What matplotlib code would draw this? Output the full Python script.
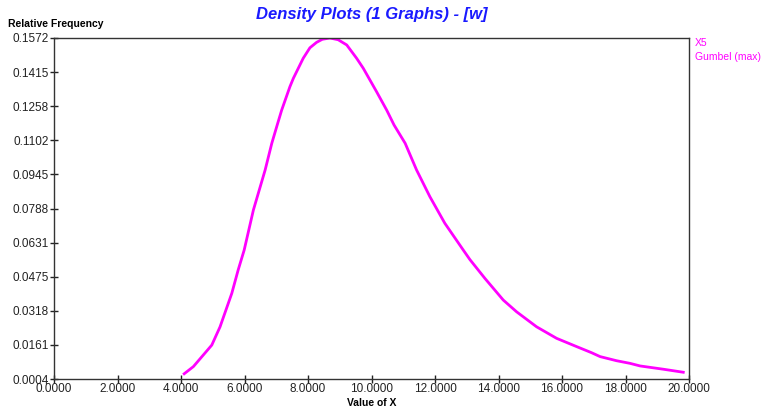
import matplotlib
matplotlib.use("Agg")
import matplotlib.pyplot as plt

x_vals = [4.10, 4.39, 4.97, 5.23, 5.60, 5.80, 5.99, 6.28, 6.65, 6.86, 7.03, 7.17, 7.43, 7.54,
          7.85, 8.06, 8.27, 8.45, 8.69, 8.95, 9.22, 9.53, 9.74, 10.16, 10.48, 10.71, 11.06,
          11.42, 11.84, 12.31, 12.89, 13.10, 13.57, 14.15, 14.57, 15.20, 15.83, 16.46,
          16.93, 17.20, 17.72, 18.14, 18.46, 19.19, 19.82]
y_vals = [0.0028, 0.0061, 0.0160, 0.0244, 0.0398, 0.0505, 0.0597, 0.0781, 0.0965, 0.1088,
          0.1172, 0.1240, 0.1348, 0.1387, 0.1479, 0.1527, 0.1552, 0.1566, 0.1572, 0.1564,
          0.1540, 0.1479, 0.1433, 0.1325, 0.1240, 0.1172, 0.1088, 0.0965, 0.0842, 0.0720,
          0.0597, 0.0553, 0.0467, 0.0367, 0.0313, 0.0244, 0.0191, 0.0153, 0.0125, 0.0107,
          0.0088, 0.0076, 0.0064, 0.0049, 0.0035]
x_ticks = [0, 2, 4, 6, 8, 10, 12, 14, 16, 18, 20]
y_ticks = [0.0004, 0.0161, 0.0318, 0.0475, 0.0631, 0.0788, 0.0945, 0.1102, 0.1258, 0.1415, 0.1572]
series_name = "X5"
dist_name = "Gumbel (max)"

plt.rcParams['font.family'] = ['Liberation Sans', 'DejaVu Sans']

fig = plt.figure(figsize=(7.62, 4.12), dpi=100)
ax = fig.add_axes([54/762, 33/412, (689-54)/762, (379-38)/412])
ax.plot(x_vals, y_vals, color='#FF00FF', lw=2, solid_joinstyle='round')
ax.set_xlim(0, 20)
ax.set_ylim(0.0004, 0.1572)
ax.set_xticks(x_ticks)
ax.set_xticklabels([f"{v:.4f}" for v in x_ticks])
ax.set_yticks(y_ticks)
ax.set_yticklabels([f"{v:.4f}" for v in y_ticks])
ax.tick_params(direction='inout', length=6, width=1, labelsize=8.5, pad=1, colors='#222222')
ax.tick_params(axis='x', pad=0)
for s in ax.spines.values():
    s.set_color('#333333')
    s.set_linewidth(1)

fig.text(372/762, 1 - 15/412, "Density Plots (1 Graphs) - [w]", color='#1a1aff',
         fontsize=12, fontweight='bold', fontstyle='italic', ha='center', va='center')
fig.text(8/762, 1 - 24/412, "Relative Frequency", fontsize=7.5, fontweight='bold',
         ha='left', va='center')
fig.text(372/762, 1 - 403/412, "Value of X", fontsize=7.5, fontweight='bold',
         ha='center', va='center')
fig.text(695/762, 1 - 43/412, series_name, color='#FF00FF', fontsize=7.5, ha='left', va='center')
fig.text(695/762, 1 - 57/412, dist_name, color='#FF00FF', fontsize=7.5, ha='left', va='center')

fig.savefig("out.png", dpi=100)
